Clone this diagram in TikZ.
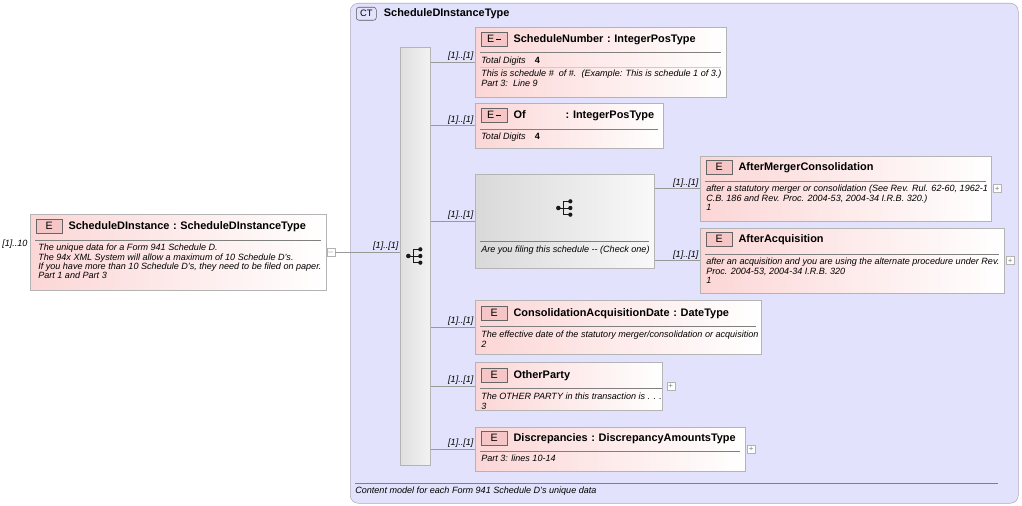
\documentclass[tikz,border=0pt]{standalone}
\usepackage{fontspec}
\setmainfont{Liberation Sans}
\usetikzlibrary{positioning}
\newcommand\px[1]{#1*0.75pt}
\definecolor{ctfill}{RGB}{226,226,252}
\definecolor{ctline}{RGB}{170,170,190}
\definecolor{elline}{RGB}{180,180,180}
\definecolor{elpink}{RGB}{252,214,214}
\definecolor{badge}{RGB}{240,160,160}

\begin{document}
\begin{tikzpicture}[x=0.75pt,y=-0.75pt,
    elem/.style={%
      draw=elline,
      rectangle,
      anchor=north west,
      left color=elpink,
      right color=white,
    },
    badge/.style={%
      draw=gray!80!black,
      rectangle,
      anchor=north west,
      fill=badge!60,
      minimum width=\px{26},
      minimum height=\px{14},
      inner sep=0pt,
      font=\fontsize{8}{8}\selectfont,
    },
    title/.style={anchor=west, font=\bfseries\fontsize{8.2}{9}\selectfont},
    body/.style={anchor=north west, align=left, inner sep=0pt,
      font=\itshape\fontsize{6.8}{6.9}\selectfont},
    mult/.style={above left, inner sep=1pt, font=\itshape\fontsize{6.8}{7}\selectfont},
    plus/.style={draw=gray!60, fill=white, minimum size=\px{8}, inner sep=0pt,
      font=\fontsize{6}{6}\selectfont, text=gray},
    conn/.style={draw=gray!80},
  ]

    \useasboundingbox (0,0) rectangle (1022,506);

    % complex type frame
    \node [draw=ctline, fill=ctfill, rounded corners=6pt, anchor=north west,
      minimum width=\px{668}, minimum height=\px{500}] (ct) at (350,3) {};
    \node [draw=gray!70!black, fill=ctfill!70!blue!30, rounded corners=2pt, anchor=north west,
      minimum width=\px{20}, minimum height=\px{13}, inner sep=0pt,
      font=\fontsize{7}{7}\selectfont] (ctbadge) at (356,7) {CT};
    \node [title, right=2pt of ctbadge] {ScheduleDInstanceType};
    \draw [gray] (355,483) -- (998,483);
    \node [body] at (355,487) {Content model for each Form 941 Schedule D's unique data};

    % sequence bar
    \node [draw=elline, left color=gray!25, right color=gray!10, anchor=north west,
      minimum width=\px{30}, minimum height=\px{418}] (seq) at (400,47) {};
    \node (seqicon) at (415,256) {};

    % root element
    \node [elem, minimum width=\px{296}, minimum height=\px{76}] (root) at (30,214) {};
    \node [badge] (rootb) at (36,219) {E};
    \node [title, right=1pt of rootb] {ScheduleDInstance\,\,:\,\,ScheduleDInstanceType};
    \draw [gray] (35,240) -- (321,240);
    \node [body] at (38,244) {The unique data for a Form 941 Schedule D.\\
      The 94x XML System will allow a maximum of 10 Schedule D's.\\
      If you have more than 10 Schedule D's, they need to be filed on paper.\\
      Part 1 and Part 3};
    \node [body] at (2,240) {[1]..10};
    \node [plus, right=0pt of root] (rootm) {$-$};
    \draw [conn] (rootm) -- (seq.west |- rootm) node [mult, pos=1] {[1]..[1]};

    % ScheduleNumber
    \node [elem, minimum width=\px{251}, minimum height=\px{70}] (snum) at (475,27) {};
    \node [badge] (snumb) at (481,32) {E\,\rule[0.5ex]{4pt}{1.2pt}};
    \node [title, right=1pt of snumb] {ScheduleNumber\,\,:\,\,IntegerPosType};
    \draw [gray] (480,52) -- (721,52);
    \node [body] at (481,57) {Total Digits\quad\textbf{\upshape 4}};
    \draw [gray!40] (480,67) -- (721,67);
    \node [body] at (481,70) {This is schedule \#\ \ of \#.\ \ (Example: This is schedule 1 of 3.)\\Part 3:\ \ Line 9};

    % Of
    \node [elem, minimum width=\px{188}, minimum height=\px{45}] (of) at (475,103) {};
    \node [badge] (ofb) at (481,108) {E\,\rule[0.5ex]{4pt}{1.2pt}};
    \node [title, right=1pt of ofb] {Of\hspace{30pt}:\,\,IntegerPosType};
    \draw [gray] (480,129) -- (658,129);
    \node [body] at (481,133) {Total Digits\quad\textbf{\upshape 4}};

    % choice
    \node [draw=elline, left color=gray!30, right color=gray!5, anchor=north west,
      minimum width=\px{179}, minimum height=\px{94}] (choice) at (475,174) {};
    \node (choiceicon) at (565,208) {};
    \draw [gray] (480,241) -- (649,241);
    \node [body] at (481,246) {Are you filing this schedule -{}- (Check one)};

    % AfterMergerConsolidation
    \node [elem, minimum width=\px{291}, minimum height=\px{65}] (amc) at (700,156) {};
    \node [badge] (amcb) at (706,160) {E};
    \node [title, right=1pt of amcb] {AfterMergerConsolidation};
    \draw [gray] (705,181) -- (986,181);
    \node [body] at (706,185) {after a statutory merger or consolidation (See Rev. Rul. 62-60, 1962-1\\
      C.B. 186 and Rev. Proc. 2004-53, 2004-34 I.R.B. 320.)\\1};
    \node [plus, right=1pt of amc] {+};

    % AfterAcquisition
    \node [elem, minimum width=\px{304}, minimum height=\px{65}] (aacq) at (700,228) {};
    \node [badge] (aacqb) at (706,232) {E};
    \node [title, right=1pt of aacqb] {AfterAcquisition};
    \draw [gray] (705,254) -- (999,254);
    \node [body] at (706,258) {after an acquisition and you are using the alternate procedure under Rev.\\
      Proc. 2004-53, 2004-34 I.R.B. 320\\1};
    \node [plus, right=1pt of aacq] {+};

    % ConsolidationAcquisitionDate
    \node [elem, minimum width=\px{286}, minimum height=\px{54}] (cad) at (475,300) {};
    \node [badge] (cadb) at (481,306) {E};
    \node [title, right=1pt of cadb] {ConsolidationAcquisitionDate\,\,:\,\,DateType};
    \draw [gray] (480,326) -- (756,326);
    \node [body] at (481,331) {The effective date of the statutory merger/consolidation or acquisition\\2};

    % OtherParty
    \node [elem, minimum width=\px{187}, minimum height=\px{48}] (op) at (475,362) {};
    \node [badge] (opb) at (481,368) {E};
    \node [title, right=1pt of opb] {OtherParty};
    \draw [gray] (480,388) -- (662,388);
    \node [body] at (481,393) {The OTHER PARTY in this transaction is . . .\\3};
    \node [plus, right=3pt of op] {+};

    % Discrepancies
    \node [elem, minimum width=\px{270}, minimum height=\px{44}] (disc) at (475,427) {};
    \node [badge] (discb) at (481,431) {E};
    \node [title, right=1pt of discb] {Discrepancies\,\,:\,\,DiscrepancyAmountsType};
    \draw [gray] (480,451) -- (740,451);
    \node [body] at (481,455) {Part 3: lines 10-14};
    \node [plus, right=1pt of disc] {+};

    % connectors from the sequence
    \foreach \c in {snum,of,choice,cad,op,disc}
      \draw [conn] (seq.east |- \c.west) -- (\c.west) node [mult, pos=1] {[1]..[1]};
    \foreach \c in {amc,aacq}
      \draw [conn] (choice.east |- \c.west) -- (\c.west) node [mult, pos=1] {[1]..[1]};

    % compositor icons
    \foreach \i in {seqicon,choiceicon} {
      \fill [gray!20!black] ([xshift=-5pt]\i.center) circle (1.7pt);
      \draw [gray!20!black, line width=0.7pt] ([xshift=-5pt]\i.center) -- ([xshift=-1pt]\i.center)
        ([xshift=-1pt,yshift=5pt]\i.center) -- ([xshift=-1pt,yshift=-5pt]\i.center)
        \foreach \dy in {5,0,-5} {([xshift=-1pt,yshift=\dy pt]\i.center) -- ([xshift=3pt,yshift=\dy pt]\i.center)};
      \foreach \dy in {5,0,-5}
        \fill [gray!20!black] ([xshift=4pt,yshift=\dy pt]\i.center) circle (1.6pt);
    }
\end{tikzpicture}
\end{document}
